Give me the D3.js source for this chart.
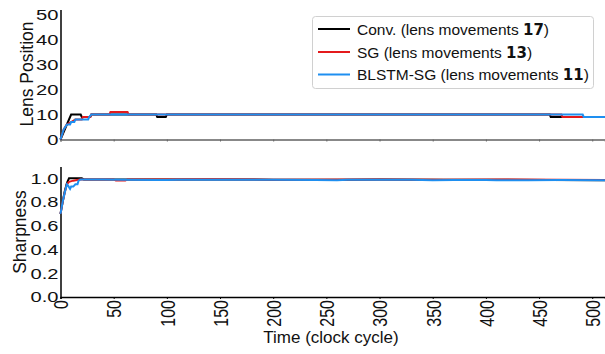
<!DOCTYPE html>
<html><head><meta charset="utf-8">
<script src="https://cdn.jsdelivr.net/npm/d3@7"></script>
<style>body{margin:0;background:#fff}svg{display:block;font-family:"Liberation Sans",Arial,sans-serif}</style>
</head><body><svg id="c" width="605" height="354"></svg>
<script>
// ---- data (time, value) ----
const convLens = [[0,0],[3,3],[6,6],[8,8],[10,10],[19,10],[20,9],[28,9],[29,10],[90,10],[91,9],[99,9],[100,10],[460,10],[461,9],[512,9]];
const sgLens   = [[0,0],[3,4],[6,6],[10,7],[14,8],[20,8],[21,9],[28,9],[29,10],[46,10],[47,11],[63,11],[64,10],[471,10],[472,9],[512,9]];
const blstmLens= [[0,0],[3,4],[6,6],[9,6],[10,7],[13,7],[14,8],[26,8],[27,9],[29,10],[491,10],[492,9],[512,9]];
const convSharp = [[0,0.70],[2,0.80],[4,0.89],[6,0.96],[8,1.0],[20,1.0],[22,0.99],[60,0.99],[100,0.99],[160,0.99],[200,0.988],[260,0.988],[300,0.99],[360,0.988],[420,0.987],[460,0.986],[512,0.984]];
const sgSharp   = [[0,0.70],[2,0.80],[4,0.88],[6,0.95],[8,0.97],[12,0.98],[18,0.99],[30,0.99],[50,0.99],[52,0.982],[61,0.982],[63,0.99],[100,0.99],[140,0.992],[200,0.988],[300,0.99],[360,0.988],[420,0.99],[470,0.987],[512,0.985]];
const blstmSharp= [[0,0.70],[2,0.80],[4,0.88],[6,0.95],[7,0.94],[9,0.91],[10,0.93],[12,0.93],[14,0.95],[16,0.95],[17,0.98],[19,0.99],[40,0.99],[60,0.988],[90,0.986],[100,0.985],[110,0.987],[150,0.988],[200,0.987],[240,0.986],[260,0.984],[270,0.987],[330,0.987],[350,0.984],[370,0.986],[400,0.986],[410,0.983],[440,0.984],[470,0.985],[512,0.983]];
const seriesNames = ["Conv.","SG","BLSTM-SG"];
const lensMoves = [17,13,11];
const colors = ["#000000","#e41a1c","#1e8ff0"];
const xTicks = [0,50,100,150,200,250,300,350,400,450,500];
const lensTicks = [0,10,20,30,40,50];
const sharpTicks = [0,0.2,0.4,0.6,0.8,1.0];

const svg = d3.select("#c");
const x = d3.scaleLinear().domain([0,512]).range([60.5,605]);
const yL = d3.scaleLinear().domain([0,52]).range([139.5,9.5]);
const yS = d3.scaleLinear().domain([0,1.1]).range([297,166.4]);
const HS = 1.3; // horizontal stretch of tick label glyphs

function yAxis(scale, ticks, fmt){
  const g = svg.append("g").attr("transform","translate(60.5,0)")
    .call(d3.axisLeft(scale).tickValues(ticks).tickSize(0).tickPadding(2).tickFormat(fmt));
  g.select(".domain").attr("stroke","#000").attr("stroke-width",1.5);
  g.selectAll("text").attr("font-size",15.5).attr("fill","#111").attr("font-family","Liberation Sans, Arial")
    .attr("x",-2/HS).attr("transform",`scale(${HS},1)`);
  return g;
}
// top panel x axis (gray, no labels)
const gxt = svg.append("g").attr("transform",`translate(0,${yL(0)})`)
  .call(d3.axisBottom(x).tickValues(xTicks).tickSize(2).tickFormat(""));
gxt.select(".domain").attr("stroke","#888").attr("stroke-width",2);
gxt.selectAll(".tick line").attr("stroke","#666");
// bottom panel x axis
const gxb = svg.append("g").attr("transform",`translate(0,${yS(0)})`)
  .call(d3.axisBottom(x).tickValues(xTicks).tickSize(2).tickPadding(3).tickFormat(d3.format("d")));
gxb.select(".domain").attr("stroke","#000").attr("stroke-width",1.5);
gxb.selectAll("text").attr("font-size",16).attr("fill","#111").attr("font-family","Liberation Sans, Arial")
  .attr("transform",`translate(0,3) scale(${HS},1) rotate(-90)`).attr("text-anchor","end").attr("dy","0.35em").attr("x",0).attr("y",0);

yAxis(yL, lensTicks, d3.format("d"));
yAxis(yS, sharpTicks, d3.format(".1f"));

const line = (ys) => d3.line().x(d=>x(d[0])).y(d=>ys(d[1]));
const lensData = [convLens, sgLens, blstmLens];
const sharpData = [convSharp, sgSharp, blstmSharp];
lensData.forEach((d,i)=>svg.append("path").datum(d).attr("d",line(yL)).attr("fill","none")
  .attr("stroke",colors[i]).attr("stroke-width",2));
sharpData.forEach((d,i)=>svg.append("path").datum(d).attr("d",line(yS)).attr("fill","none")
  .attr("stroke",colors[i]).attr("stroke-width",2));

// axis titles
svg.append("text").attr("transform",`translate(33,74) rotate(-90)`).attr("text-anchor","middle")
  .attr("font-size",17.5).attr("fill","#111").text("Lens Position");
svg.append("text").attr("transform",`translate(26,232) rotate(-90)`).attr("text-anchor","middle")
  .attr("font-size",17.5).attr("fill","#111").text("Sharpness");
svg.append("text").attr("x",331).attr("y",343).attr("text-anchor","middle")
  .attr("font-size",17).attr("fill","#111").text("Time (clock cycle)");

// legend
const lg = svg.append("g");
lg.append("rect").attr("x",312.5).attr("y",16.5).attr("width",281).attr("height",72).attr("rx",3)
  .attr("fill","#fff").attr("fill-opacity",0.85).attr("stroke","#d0d0d0");
const rowsY = [29,52,74.5];
seriesNames.forEach((n,i)=>{
  lg.append("line").attr("x1",318).attr("x2",350).attr("y1",rowsY[i]).attr("y2",rowsY[i])
    .attr("stroke",colors[i]).attr("stroke-width",2);
  const t = lg.append("text").attr("x",357).attr("y",rowsY[i]+5.5).attr("font-size",15.5).attr("fill","#111");
  t.append("tspan").text(n+" (lens movements ");
  t.append("tspan").attr("font-weight","bold").attr("font-family","DejaVu Sans").attr("font-size",15).text(lensMoves[i]);
  t.append("tspan").text(")");
});
</script></body></html>
